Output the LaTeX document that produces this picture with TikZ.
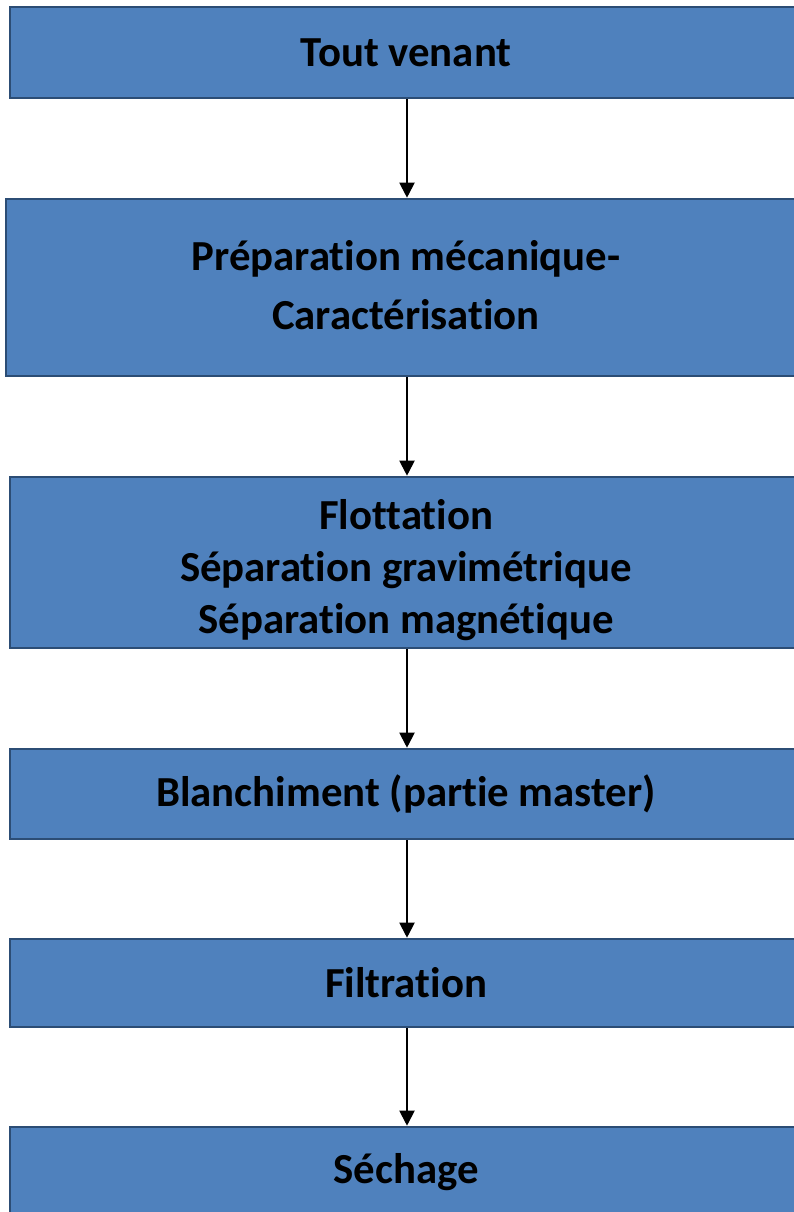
\documentclass[tikz,border=0pt]{standalone}
\usepackage{fontspec}
\setmainfont{Carlito}[Ligatures=NoCommon]
\usetikzlibrary{arrows.meta}
\definecolor{boxfill}{HTML}{4F81BD}
\definecolor{boxline}{HTML}{2C4D75}
\tikzset{
  stagebox/.style={draw=boxline, fill=boxfill, line width=2.6bp, rectangle,
    inner sep=0pt, align=center, text=black,
    font={\bfseries\fontsize{42.8bp}{52bp}\selectfont}},
  flowarrow/.style={draw=black, line width=2bp,
    -{Triangle[width=15bp,length=15bp]}}
}
\begin{document}
\begin{tikzpicture}[x=1bp, y=-1bp]
  \useasboundingbox (0,0) rectangle (794,1212);
  \clip (0,0) rectangle (794,1212);
  \node[stagebox, minimum width=792bp, minimum height=91bp] (s1) at (406,52.5) {Tout venant};
  \node[stagebox, minimum width=800bp, minimum height=177bp,
        font={\bfseries\fontsize{42.8bp}{59bp}\selectfont}] (s2) at (406,287.5)
        {Préparation mécanique-\\Caractérisation\rule[-6bp]{0pt}{6bp}};
  \node[stagebox, minimum width=792bp, minimum height=171bp] (s3) at (406,562.5)
        {\rule{0pt}{45bp}Flottation\\Séparation gravimétrique\\Séparation magnétique};
  \node[stagebox, minimum width=792bp, minimum height=90bp] (s4) at (406,794) {Blanchiment (partie master)};
  \node[stagebox, minimum width=792bp, minimum height=88bp] (s5) at (406,983) {Filtration};
  \node[stagebox, minimum width=792bp, minimum height=91bp] (s6) at (406,1172.5) {Séchage};
  \draw[flowarrow] ([xshift=1bp]s1.south) -- ([xshift=1bp]s2.north);
  \draw[flowarrow] ([xshift=1bp]s2.south) -- ([xshift=1bp]s3.north);
  \draw[flowarrow] ([xshift=1bp]s3.south) -- ([xshift=1bp]s4.north);
  \draw[flowarrow] ([xshift=1bp]s4.south) -- ([xshift=1bp]s5.north);
  \draw[flowarrow] ([xshift=1bp]s5.south) -- ([xshift=1bp]s6.north);
\end{tikzpicture}
\end{document}
